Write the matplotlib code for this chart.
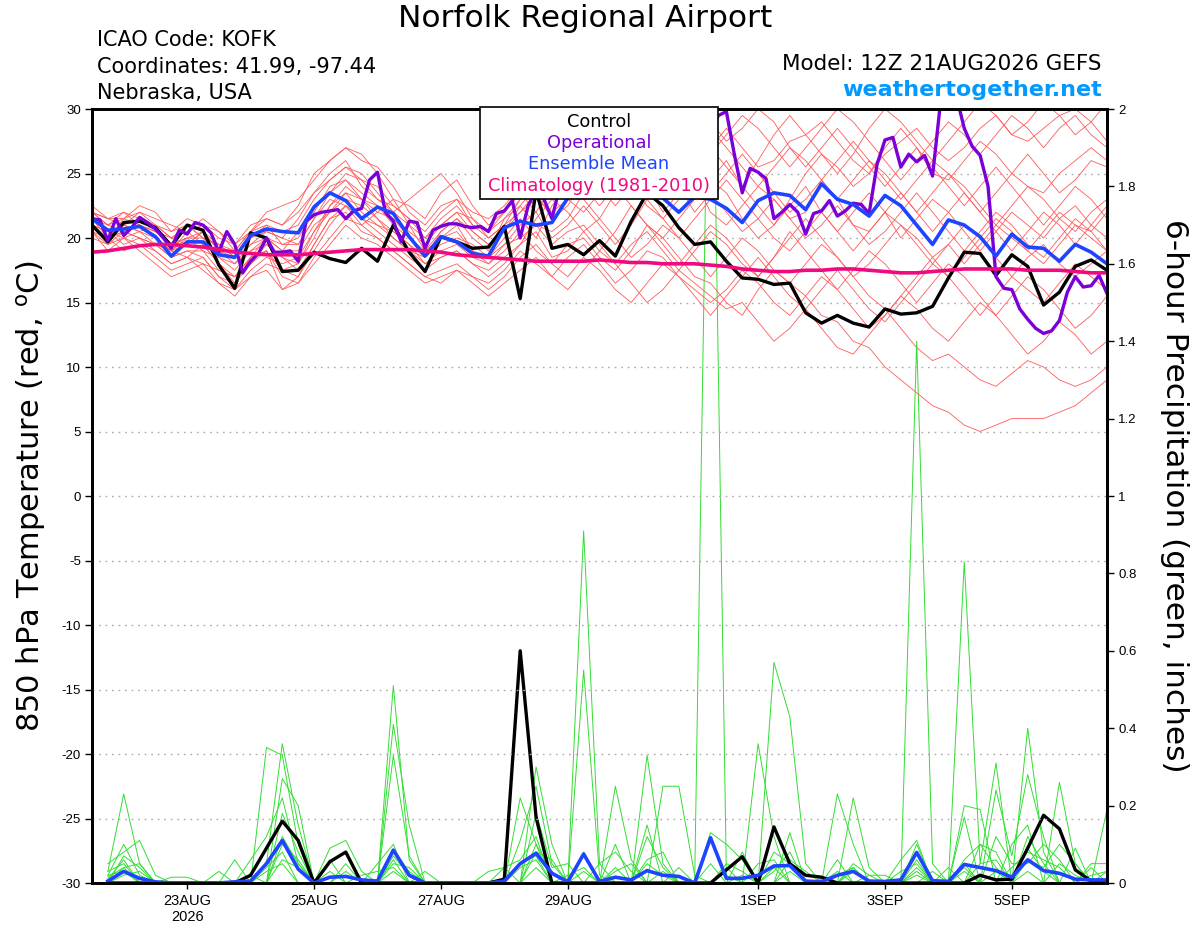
import numpy as np
import pandas as pd
import matplotlib
matplotlib.use("Agg")
import matplotlib.pyplot as plt
from matplotlib.patches import Rectangle

plt.rcParams['font.family'] = ['Liberation Sans', 'DejaVu Sans']
plt.rcParams['axes.unicode_minus'] = False

# ---- time axes (6-hourly ensemble, 3-hourly operational) ----
times6 = pd.date_range("2026-08-21 12:00", periods=65, freq="6h")
times3 = pd.date_range("2026-08-21 12:00", periods=129, freq="3h")
ptimes = times6[1:]

# ---- 850 hPa temperature (C) ----
control_t = [21.0, 19.7, 21.2, 21.3, 20.8, 19.4, 21.0, 20.6, 17.9, 16.1,
             20.4, 20.0, 17.4, 17.5, 18.9, 18.4, 18.1, 19.2, 18.2, 21.0,
             18.9, 17.4, 20.1, 19.7, 19.2, 19.3, 20.9, 15.3, 23.7, 19.2,
             19.5, 18.7, 19.8, 18.6, 21.3, 23.5, 22.5, 20.8, 19.5, 19.7,
             18.2, 16.9, 16.8, 16.4, 16.5, 14.2, 13.4, 14.0, 13.4, 13.1,
             14.5, 14.1, 14.2, 14.7, 16.9, 18.9, 18.8, 17.1, 18.7, 17.8,
             14.8, 15.8, 17.8, 18.3, 17.5]

mean_t = [21.5, 20.6, 20.7, 20.9, 20.1, 18.6, 19.7, 19.7, 18.7, 18.5,
          20.2, 20.7, 20.5, 20.4, 22.4, 23.5, 22.9, 21.5, 22.4, 21.9,
          20.1, 18.6, 20.1, 19.7, 18.8, 18.6, 20.8, 21.3, 21.0, 21.2,
          23.1, 24.0, 24.5, 24.3, 24.6, 24.0, 23.1, 22.0, 23.2, 23.0,
          22.3, 21.2, 22.9, 23.5, 23.3, 22.2, 24.2, 23.0, 22.6, 21.7,
          23.3, 22.5, 21.0, 19.5, 21.4, 21.0, 20.1, 18.6, 20.3, 19.3,
          19.2, 18.2, 19.5, 18.9, 18.0]

clim_t = [18.9, 19.0, 19.2, 19.4, 19.5, 19.5, 19.4, 19.3, 19.1, 18.9,
          18.8, 18.7, 18.7, 18.7, 18.8, 18.9, 19.0, 19.1, 19.1, 19.1,
          19.1, 19.0, 18.9, 18.7, 18.6, 18.5, 18.4, 18.3, 18.2, 18.2,
          18.2, 18.2, 18.3, 18.2, 18.1, 18.1, 18.0, 18.0, 18.0, 17.9,
          17.8, 17.6, 17.5, 17.4, 17.4, 17.5, 17.5, 17.6, 17.6, 17.5,
          17.4, 17.3, 17.3, 17.4, 17.5, 17.6, 17.6, 17.6, 17.6, 17.5,
          17.5, 17.5, 17.4, 17.3, 17.3]

oper_t = [21.5, 21.4, 19.8, 21.5, 20.2, 20.8, 21.6, 21.2, 20.7, 20.0,
          19.2, 20.6, 20.3, 21.2, 21.0, 20.4, 18.9, 20.5, 19.5, 17.3,
          18.2, 18.8, 20.0, 18.9, 18.9, 19.0, 18.2, 21.3, 21.8, 22.0,
          22.1, 22.2, 21.5, 22.1, 22.3, 24.5, 25.1, 22.0, 21.3, 19.7,
          21.3, 21.2, 19.2, 20.6, 20.9, 21.1, 21.1, 20.9, 20.8, 20.9,
          20.5, 21.9, 22.1, 22.9, 20.0, 22.5, 23.7, 23.0, 21.5, 24.0,
          25.0, 26.0, 27.0, 27.5, 28.0, 28.0, 27.0, 26.5, 27.0, 28.0,
          28.5, 28.0, 27.0, 27.5, 28.5, 29.0, 28.5, 28.0, 28.5, 29.5,
          29.8, 26.5, 23.5, 25.4, 25.1, 24.6, 21.5, 22.0, 22.6, 22.0,
          20.3, 21.9, 22.1, 22.9, 21.7, 22.1, 22.7, 22.6, 21.9, 25.7,
          27.6, 27.8, 25.5, 26.5, 25.9, 26.4, 24.8, 30.5, 31.5, 31.0,
          28.5, 27.1, 26.4, 24.0, 17.0, 16.1, 16.0, 14.5, 13.7, 13.0,
          12.6, 12.8, 13.6, 15.8, 17.0, 16.2, 16.3, 17.1, 15.7]

# ensemble members (temperature)
mem_t = [
    [22.0, 21.5, 21.0, 22.0, 21.5, 21.0, 20.5, 21.0, 20.0, 19.5,
     21.0, 21.5, 21.0, 22.5, 25.0, 26.0, 27.0, 26.0, 25.5, 24.0,
     22.0, 21.0, 22.5, 23.0, 22.0, 21.5, 22.5, 24.0, 25.5, 26.0,
     27.0, 28.0, 29.0, 28.0, 26.5, 27.5, 29.5, 28.0, 26.0, 27.0,
     28.5, 27.0, 25.5, 26.0, 27.5, 28.0, 29.0, 27.5, 26.0, 25.0,
     27.0, 28.5, 27.0, 25.0, 24.5, 26.0, 27.5, 26.5, 25.0, 24.0,
     23.5, 25.0, 26.0, 27.0, 26.0],
    [21.5, 20.5, 20.0, 20.5, 19.5, 19.0, 18.5, 18.0, 17.5, 17.0,
     18.5, 19.0, 17.5, 18.0, 20.0, 22.5, 23.5, 22.0, 21.0, 20.5,
     19.5, 18.0, 19.0, 19.5, 18.5, 18.0, 19.0, 20.5, 19.0, 18.0,
     19.5, 20.0, 18.5, 17.5, 19.0, 21.0, 20.0, 18.5, 17.0, 16.5,
     15.0, 14.0, 16.0, 17.5, 16.5, 15.5, 14.0, 13.5, 12.0, 11.5,
     10.0, 9.0, 8.0, 7.0, 6.5, 5.5, 5.0, 5.5, 6.0, 6.0,
     6.0, 6.5, 7.0, 8.0, 9.0],
    [21.0, 20.0, 21.5, 21.0, 20.0, 19.0, 19.5, 20.5, 19.0, 18.0,
     19.5, 20.5, 20.0, 19.5, 21.5, 23.0, 22.5, 21.0, 22.0, 23.0,
     21.0, 19.0, 20.0, 20.5, 19.0, 18.5, 20.0, 21.5, 20.0, 22.5,
     24.0, 23.0, 21.5, 23.5, 25.0, 24.0, 22.0, 23.5, 24.5, 22.0,
     21.0, 22.5, 24.0, 23.0, 21.5, 22.0, 24.5, 23.0, 21.0, 20.5,
     22.0, 21.0, 19.5, 18.0, 19.5, 21.0, 20.0, 18.5, 17.0, 18.5,
     19.5, 18.0, 17.0, 18.0, 19.0],
    [20.5, 19.5, 20.5, 20.0, 19.0, 18.0, 18.5, 19.5, 18.0, 16.5,
     18.0, 19.0, 16.0, 17.0, 19.5, 21.5, 22.0, 20.5, 20.0, 19.0,
     18.0, 17.0, 17.5, 18.0, 17.0, 16.5, 17.5, 19.0, 18.0, 17.0,
     18.5, 19.5, 18.0, 16.5, 17.5, 19.0, 18.5, 17.0, 16.0, 15.0,
     16.0, 17.5, 16.5, 15.0, 14.0, 15.5, 17.0, 16.0, 14.5, 13.0,
     14.0, 15.5, 14.5, 13.0, 12.0, 13.5, 15.0, 14.0, 12.5, 11.0,
     12.0, 13.5, 12.5, 11.0, 12.0],
    [22.5, 21.5, 22.0, 21.5, 21.0, 20.5, 21.0, 20.0, 19.5, 19.0,
     20.5, 21.0, 20.5, 21.0, 23.0, 24.5, 25.5, 25.0, 23.5, 22.0,
     23.0, 24.0, 25.0, 23.5, 21.5, 20.0, 21.0, 23.0, 25.0, 27.0,
     28.0, 29.5, 30.5, 31.0, 29.0, 27.5, 26.0, 24.5, 23.0, 24.5,
     26.0, 24.0, 22.5, 21.0, 22.5, 24.0, 22.0, 20.5, 22.0, 23.5,
     22.0, 20.0, 21.5, 23.0, 22.0, 20.5, 19.0, 20.5, 22.0, 21.0,
     20.0, 21.5, 22.5, 21.0, 20.0],
    [21.5, 21.0, 20.5, 21.0, 20.5, 19.5, 20.0, 19.0, 18.5, 18.0,
     19.0, 20.0, 19.5, 20.0, 22.0, 24.0, 24.5, 23.0, 22.5, 21.5,
     20.5, 19.5, 21.0, 22.0, 20.5, 19.5, 20.5, 22.0, 23.5, 21.5,
     22.5, 24.5, 26.0, 24.0, 22.5, 21.0, 20.0, 21.5, 23.0, 24.5,
     23.5, 21.5, 20.0, 21.0, 23.0, 25.0, 26.5, 25.5, 24.0, 25.0,
     26.5, 27.5, 28.5, 27.0, 26.0, 27.0, 28.5, 29.5, 28.0, 27.5,
     28.5, 29.5, 30.0, 29.0, 27.5],
    [21.0, 20.5, 19.5, 20.0, 19.5, 18.5, 19.0, 18.5, 17.0, 16.0,
     17.5, 18.5, 18.0, 18.5, 20.5, 22.0, 23.0, 22.5, 21.5, 20.0,
     19.0, 18.5, 19.5, 20.0, 19.5, 18.5, 19.5, 20.0, 21.0, 19.5,
     20.5, 21.0, 19.5, 18.0, 19.5, 20.5, 19.0, 17.5, 16.5, 15.5,
     14.5, 15.0, 13.5, 12.0, 13.0, 14.5, 13.0, 11.5, 11.0, 12.5,
     14.0, 15.5, 17.0, 18.5, 19.5, 18.0, 19.5, 21.0, 20.0, 19.0,
     20.5, 22.0, 21.0, 20.5, 22.0],
    [20.5, 20.0, 21.0, 20.5, 20.0, 19.0, 20.0, 20.0, 18.5, 17.5,
     19.0, 19.5, 18.5, 18.0, 20.5, 22.5, 24.0, 23.0, 22.0, 21.5,
     20.0, 18.5, 20.5, 21.5, 20.0, 19.0, 21.5, 22.5, 21.0, 20.5,
     21.5, 23.5, 25.0, 26.5, 27.5, 26.0, 24.5, 25.5, 27.0, 28.5,
     27.0, 25.5, 24.0, 25.5, 27.0, 26.0, 24.5, 23.0, 24.5, 26.0,
     25.0, 23.5, 22.0, 23.5, 25.0, 24.0, 22.5, 21.0, 22.5, 24.0,
     23.0, 21.5, 20.5, 22.0, 23.0],
    [21.0, 20.0, 19.0, 19.5, 19.0, 18.0, 18.5, 17.5, 16.5, 16.0,
     17.0, 18.0, 17.5, 17.0, 19.0, 21.0, 22.5, 21.5, 20.5, 19.5,
     18.5, 17.5, 18.5, 19.0, 18.0, 17.5, 18.5, 19.5, 20.5, 18.5,
     19.0, 20.5, 21.5, 20.0, 18.5, 19.5, 21.0, 20.0, 18.5, 17.0,
     18.5, 20.0, 19.0, 17.5, 16.5, 18.0, 19.5, 18.5, 17.0, 15.5,
     14.5, 13.0, 11.5, 10.5, 11.0, 10.0, 9.0, 8.5, 9.5, 10.5,
     10.0, 9.0, 8.5, 9.0, 10.0],
    [22.0, 21.5, 21.5, 22.5, 22.0, 20.5, 21.5, 21.0, 20.5, 19.5,
     20.5, 22.0, 22.5, 23.0, 24.5, 26.0, 27.0, 26.5, 25.0, 23.0,
     22.5, 21.5, 23.5, 24.5, 22.5, 21.0, 22.0, 23.5, 22.0, 24.0,
     25.5, 24.0, 22.5, 24.0, 26.0, 27.5, 26.0, 24.0, 22.0, 23.5,
     25.0, 26.5, 25.0, 23.5, 22.0, 23.0, 24.5, 26.0, 27.5, 26.0,
     24.5, 23.0, 24.5, 26.0, 25.0, 23.5, 22.0, 23.5, 25.0, 26.5,
     25.0, 23.5, 24.5, 26.0, 25.5],
    [20.0, 19.5, 20.0, 19.5, 18.5, 17.5, 18.0, 18.5, 17.0, 16.5,
     18.5, 19.0, 17.0, 16.5, 18.0, 19.5, 21.0, 20.0, 19.5, 18.5,
     17.5, 16.5, 17.0, 17.5, 17.0, 16.0, 17.0, 18.5, 19.5, 18.0,
     17.0, 18.5, 17.5, 16.0, 15.0, 16.5, 18.0, 17.0, 15.5, 14.0,
     15.5, 17.0, 18.5, 17.0, 15.5, 14.5, 16.0, 17.5, 16.0, 14.5,
     13.5, 15.0, 16.5, 18.0, 17.0, 15.5, 14.0, 15.5, 17.0, 16.0,
     15.0, 16.5, 18.0, 17.0, 16.0],
    [21.5, 20.5, 21.0, 20.5, 21.0, 20.0, 19.5, 20.5, 19.5, 18.5,
     20.0, 20.5, 20.0, 21.5, 23.5, 25.0, 26.0, 24.0, 23.0, 22.5,
     21.5, 20.0, 21.5, 22.5, 21.0, 20.5, 21.5, 23.0, 24.5, 26.0,
     24.5, 26.5, 28.0, 27.0, 25.5, 24.0, 25.5, 27.0, 28.5, 27.0,
     25.5, 24.0, 26.0, 28.0, 29.5, 28.0, 26.5, 25.0, 26.5, 28.5,
     30.0, 29.0, 27.5, 26.0, 27.5, 29.0, 30.5, 29.5, 28.0, 29.0,
     30.5, 29.5, 28.0, 29.0, 30.5],
    [20.5, 19.0, 20.0, 19.0, 18.0, 17.0, 17.5, 18.0, 16.5, 15.5,
     17.0, 17.5, 16.0, 16.5, 18.5, 20.0, 21.5, 21.0, 20.0, 19.0,
     18.0, 17.0, 16.5, 17.5, 16.5, 15.5, 16.5, 17.5, 18.5, 17.0,
     16.0, 17.5, 19.0, 18.0, 16.5, 15.0, 16.0, 17.5, 19.0, 20.5,
     19.5, 18.0, 17.0, 18.5, 20.0, 21.5, 20.0, 18.5, 17.0, 18.0,
     19.5, 21.0, 20.0, 18.5, 17.0, 18.5, 20.0, 21.5, 20.5, 19.0,
     18.0, 19.5, 21.0, 20.0, 19.0],
    [22.0, 21.0, 21.5, 22.0, 21.0, 20.0, 20.5, 21.5, 20.5, 19.0,
     20.5, 21.5, 21.0, 22.0, 23.5, 24.5, 25.5, 24.5, 24.0, 22.5,
     21.5, 20.5, 22.0, 23.0, 21.0, 20.0, 21.0, 22.0, 23.0, 24.5,
     23.0, 22.0, 23.5, 25.0, 24.0, 22.5, 21.5, 23.0, 24.5, 23.5,
     22.0, 20.5, 21.5, 23.0, 21.5, 20.0, 21.0, 22.5, 21.0, 19.5,
     20.5, 22.0, 23.5, 22.0, 20.5, 19.0, 20.5, 22.0, 21.0, 19.5,
     18.5, 20.0, 21.5, 20.5, 19.0],
    [21.0, 20.5, 21.0, 21.5, 20.5, 19.5, 20.0, 20.5, 19.0, 18.5,
     19.5, 20.0, 19.0, 20.5, 22.5, 23.5, 24.5, 23.5, 22.5, 21.0,
     20.0, 19.0, 20.5, 21.5, 20.5, 19.5, 20.5, 22.5, 24.0, 25.5,
     26.5, 25.0, 27.0, 28.5, 30.0, 29.0, 27.5, 29.0, 30.5, 29.0,
     27.5, 28.5, 30.0, 29.0, 27.0, 25.5, 27.0, 28.5, 27.0, 25.5,
     24.0, 25.5, 27.0, 25.5, 24.0, 22.5, 24.0, 25.5, 24.0, 22.5,
     21.0, 22.5, 24.0, 23.0, 21.5],
    [21.0, 20.0, 20.5, 20.0, 19.5, 18.5, 19.0, 19.0, 17.5, 17.0,
     18.0, 19.5, 18.5, 17.5, 19.5, 21.5, 22.5, 21.5, 21.0, 20.0,
     19.0, 18.0, 18.5, 19.0, 18.0, 17.0, 18.0, 19.5, 21.5, 23.0,
     22.0, 20.5, 19.0, 20.5, 22.5, 21.0, 19.5, 18.0, 19.5, 21.0,
     20.0, 18.5, 17.0, 18.5, 20.5, 19.0, 17.5, 16.0, 17.5, 19.0,
     18.0, 16.5, 15.0, 16.5, 18.0, 17.0, 15.5, 14.0, 15.5, 17.0,
     16.0, 14.5, 13.0, 14.0, 15.5],
    [22.0, 21.0, 22.0, 21.0, 20.5, 20.0, 21.0, 20.0, 19.5, 18.5,
     20.0, 21.0, 19.5, 19.5, 21.5, 23.5, 25.0, 24.5, 23.0, 22.0,
     21.0, 20.0, 21.0, 22.0, 21.5, 20.5, 22.0, 23.5, 23.0, 22.0,
     23.0, 25.0, 24.0, 22.5, 24.0, 26.0, 28.0, 27.0, 25.5, 26.5,
     28.0, 29.5, 28.5, 27.0, 25.5, 27.0, 28.5, 30.0, 29.0, 27.5,
     26.0, 24.5, 26.0, 27.5, 29.0, 28.0, 26.5, 28.0, 29.5, 28.5,
     27.0, 28.5, 29.5, 28.0, 27.0],
    [21.5, 20.0, 20.5, 21.0, 20.0, 19.0, 20.5, 19.5, 18.0, 17.0,
     18.5, 20.0, 19.0, 19.0, 21.0, 22.0, 23.5, 23.0, 21.5, 20.5,
     19.5, 18.5, 20.0, 21.0, 19.0, 18.0, 19.5, 21.0, 22.0, 20.0,
     21.0, 22.5, 21.0, 19.5, 21.0, 23.0, 21.5, 20.0, 21.5, 23.0,
     24.5, 23.0, 21.5, 20.0, 19.0, 20.5, 22.0, 20.5, 19.0, 20.5,
     22.0, 23.5, 22.0, 20.5, 22.0, 23.5, 22.0, 20.5, 19.0, 20.5,
     22.0, 21.0, 19.5, 21.0, 22.5],
]

# ---- 6-hour precipitation (inches), valid 21AUG 18Z onwards ----
control_p = [0, 0, 0, 0, 0, 0, 0, 0, 0, 0.02,
             0.09, 0.16, 0.11, 0, 0.055, 0.08, 0, 0, 0, 0,
             0, 0, 0, 0, 0, 0.01, 0.60, 0.17, 0, 0,
             0, 0, 0, 0, 0, 0, 0, 0, 0, 0.034,
             0.068, 0, 0.145, 0.05, 0.02, 0.015, 0, 0, 0, 0,
             0, 0, 0, 0, 0, 0.02, 0.008, 0.01, 0.09, 0.175,
             0.14, 0.034, 0.005, 0]

mean_p = [0.005, 0.03, 0.012, 0.003, 0, 0, 0, 0, 0.003, 0.005,
          0.05, 0.11, 0.036, 0, 0.015, 0.017, 0.008, 0.005, 0.085, 0.02,
          0, 0, 0, 0, 0, 0.005, 0.05, 0.077, 0.025, 0.003,
          0.075, 0.004, 0.015, 0.008, 0.032, 0.02, 0.017, 0, 0.117, 0.012,
          0.012, 0.02, 0.044, 0.045, 0.005, 0.003, 0.02, 0.03, 0.005, 0.004,
          0.008, 0.079, 0.006, 0.004, 0.048, 0.04, 0.032, 0.015, 0.06, 0.032,
          0.025, 0.01, 0.008, 0.008]

mem_p = [
    [.03, .23, .05, 0, 0, 0, 0, 0,
     0, 0, .05, .36, .15, 0, 0, 0,
     0, 0, .51, .06, 0, 0, 0, 0,
     0, 0, .22, .10, 0, 0, .91, .05,
     0, 0, .33, .05, 0, 0, 0, 0,
     0, 0, .57, .43, .05, 0, 0, 0,
     0, 0, 0, .10, 0, 0, .20, .19,
     0, 0, .40, .08, 0, 0, 0, .19],
    [.02, .10, .02, 0, 0, 0, 0, 0,
     0, 0, .35, .33, .10, 0, 0, 0,
     0, 0, .41, .15, 0, 0, 0, 0,
     0, 0, 0, .30, .10, 0, 0, 0,
     .25, .06, 0, 0, 0, 0, 2.6, .02,
     0, .36, .12, 0, 0, 0, .23, .10,
     0, 0, 0, 0, 0, 0, .83, .05,
     .31, 0, 0, 0, .26, .05, 0, 0],
    [.05, .08, .11, .02, 0, 0, 0, 0,
     0, 0, 0, .27, .20, 0, .09, .11,
     .03, 0, .33, .07, 0, 0, 0, 0,
     0, 0, .11, .25, .05, 0, .55, .02,
     0, 0, 0, .25, .25, .02, 0, 0,
     .08, 0, 0, 0, 0, 0, 0, .22,
     .04, 0, 0, 1.40, .05, 0, 0, 0,
     .24, .07, .28, .12, 0, 0, 0, 0],
    [.01, .06, 0, 0, .015, .015, 0, 0,
     0, .06, .12, .22, .05, 0, 0, .05,
     0, .05, .10, 0, 0, 0, 0, 0,
     0, 0, 0, .18, .04, .05, 0, 0,
     .10, 0, .15, 0, 0, 0, .13, .10,
     .06, 0, 0, .13, 0, 0, .06, 0,
     0, 0, .06, .11, 0, 0, .17, 0,
     0, .10, .15, 0, 0, 0, .05, .05],
    [0, .04, .05, 0, 0, 0, 0, 0,
     .06, 0, 0, .18, .08, 0, .06, 0,
     0, 0, .08, .03, 0, 0, 0, 0,
     0, .04, .06, .12, 0, 0, .08, 0,
     0, 0, .12, .04, 0, 0, .05, 0,
     0, 0, .08, .05, 0, 0, 0, .04,
     0, 0, .03, .05, 0, .04, 0, .10,
     .08, 0, .12, .05, 0, .09, 0, 0],
    [.02, .03, 0, 0, 0, 0, 0, .03,
     0, 0, 0, .10, .06, 0, 0, .03,
     0, 0, .06, 0, .03, 0, 0, 0,
     .03, .04, 0, .08, .06, 0, 0, 0,
     .03, .05, 0, 0, .04, 0, 0, .05,
     .03, 0, 0, .06, .03, 0, 0, 0,
     .02, .02, 0, 0, .03, 0, .05, 0,
     0, .04, .08, .06, .04, 0, .02, .03],
    [0, .02, .03, 0, 0, 0, 0, 0,
     0, 0, .04, .08, 0, 0, 0, 0,
     .02, .03, .04, 0, 0, 0, 0, 0,
     0, 0, .04, .06, 0, .02, .04, 0,
     0, 0, .06, .08, 0, 0, 0, 0,
     0, .05, .06, 0, 0, .01, .02, .04,
     0, 0, 0, .03, 0, 0, .06, .10,
     .04, 0, .06, .04, .10, .05, 0, 0],
    [.03, .05, 0, 0, 0, 0, 0, 0,
     0, .02, 0, .06, .04, 0, .03, 0,
     0, 0, .05, .04, 0, 0, 0, 0,
     0, 0, 0, .10, .03, 0, 0, .05,
     .08, .03, 0, .03, 0, 0, 0, .04,
     0, 0, .03, .08, 0, 0, 0, .05,
     .02, 0, 0, .04, 0, 0, .03, 0,
     .12, .05, .05, .10, .06, 0, 0, .03],
    [0, .07, .04, 0, 0, 0, 0, 0,
     0, 0, 0, .12, .05, 0, 0, 0,
     0, 0, .03, 0, 0, 0, 0, 0,
     0, 0, 0, .04, 0, 0, 0, 0,
     0, 0, .05, .02, 0, 0, 0, 0,
     0, 0, .04, 0, 0, 0, 0, .03,
     0, 0, 0, .02, 0, 0, 0, .05,
     .06, 0, .03, 0, .05, .02, 0, 0],
    [.015, .04, 0, 0, 0, 0, 0, 0,
     0, 0, .03, .05, 0, 0, 0, 0,
     0, 0, .07, .02, 0, 0, 0, 0,
     0, 0, .05, .07, 0, 0, .03, 0,
     .04, 0, 0, 0, 0, 0, 0, 0,
     .02, 0, 0, .03, 0, 0, .03, 0,
     0, 0, 0, .06, 0, 0, .04, 0,
     .03, 0, .09, .03, 0, 0, .04, 0],
]

tick_dates = ["2026-08-23", "2026-08-25", "2026-08-27", "2026-08-29",
              "2026-09-01", "2026-09-03", "2026-09-05"]
tick_labels = ["23AUG\n2026", "25AUG", "27AUG", "29AUG", "1SEP", "3SEP", "5SEP"]

c_red = "#ff5a5a"
c_green = "#33dd33"
c_oper = "#7b00d8"
c_mean = "#1e44ff"
c_clim = "#f00a80"
big = "DejaVu Sans"

fig = plt.figure(figsize=(12, 9.27), dpi=100)
ax = fig.add_axes([92 / 1200, 1 - 883 / 927, 1015 / 1200, 774 / 927])
ax2 = ax.twinx()
ax.set_zorder(ax2.get_zorder() + 1)
ax.patch.set_visible(False)

# precipitation (right axis, underneath)
for m in mem_p:
    ax2.plot(ptimes, m, color=c_green, lw=0.7)
ax2.plot(ptimes, control_p, color="black", lw=2.4)
ax2.plot(ptimes, mean_p, color=c_mean, lw=2.6)
ax2.set_ylim(0, 2)
ax2.set_yticks(np.arange(0, 2.01, 0.2))
ax2.set_yticklabels(["0", "0.2", "0.4", "0.6", "0.8", "1", "1.2", "1.4", "1.6", "1.8", "2"])
ax2.tick_params(axis="y", direction="out", length=5, width=1, labelsize=9.5, pad=3)

# temperature (left axis)
for m in mem_t:
    ax.plot(times6, m, color=c_red, lw=0.6)
ax.plot(times6, control_t, color="black", lw=2.4)
ax.plot(times3, oper_t, color=c_oper, lw=2.4)
ax.plot(times6, mean_t, color=c_mean, lw=2.6)
ax.plot(times6, clim_t, color=c_clim, lw=2.6)

ax.set_ylim(-30, 30)
ax.set_yticks(range(-30, 31, 5))
ax.tick_params(axis="y", direction="out", length=5, width=1, labelsize=9.5, pad=3)
ax.yaxis.grid(True, color="#aaaaaa", lw=1.0, linestyle=(0, (1.2, 3.5)))

ax.set_xlim(times6[0], times6[-1])
ax.set_xticks(pd.to_datetime(tick_dates))
ax.set_xticklabels(tick_labels)
ax.tick_params(axis="x", direction="out", length=4, width=1, labelsize=10.5, pad=4)

for a in (ax, ax2):
    for s in a.spines.values():
        s.set_linewidth(2)

# legend box
ax.add_patch(Rectangle((0.382, 0.884), 0.235, 0.118, transform=ax.transAxes,
                       facecolor="white", edgecolor="black", lw=1.2,
                       zorder=20, clip_on=False))
leg_items = [("Control", "black", 0.9835), ("Operational", c_oper, 0.9565),
             ("Ensemble Mean", c_mean, 0.929), ("Climatology (1981-2010)", c_clim, 0.9005)]
for txt, col, yy in leg_items:
    ax.text(0.4995, yy, txt, color=col, fontsize=12.8, family=big, ha="center",
            va="center", transform=ax.transAxes, zorder=21)

# titles and labels
fig.text(0.4875, 0.9805, "Norfolk Regional Airport", fontsize=22.5, family=big,
         ha="center", va="center")
fig.text(0.081, 0.9568, "ICAO Code: KOFK", fontsize=15, family=big, ha="left", va="center")
fig.text(0.081, 0.9282, "Coordinates: 41.99, -97.44", fontsize=15, family=big,
         ha="left", va="center")
fig.text(0.081, 0.8997, "Nebraska, USA", fontsize=15, family=big, ha="left", va="center")
fig.text(0.9175, 0.9310, "Model: 12Z 21AUG2026 GEFS", fontsize=15.5, family=big,
         ha="right", va="center")
fig.text(0.9180, 0.9030, "weathertogether.net", fontsize=16, fontweight="bold", family=big,
         color="#0099ff", ha="right", va="center")

fig.text(0.026, 0.465, "850 hPa Temperature (red, $^{\\mathregular{o}}$C)", fontsize=22,
         family=big, rotation=90, ha="center", va="center")
fig.text(0.979, 0.465, "6-hour Precipitation (green, inches)", fontsize=22.5,
         family=big, rotation=270, ha="center", va="center")

fig.savefig("out.png", dpi=100)
